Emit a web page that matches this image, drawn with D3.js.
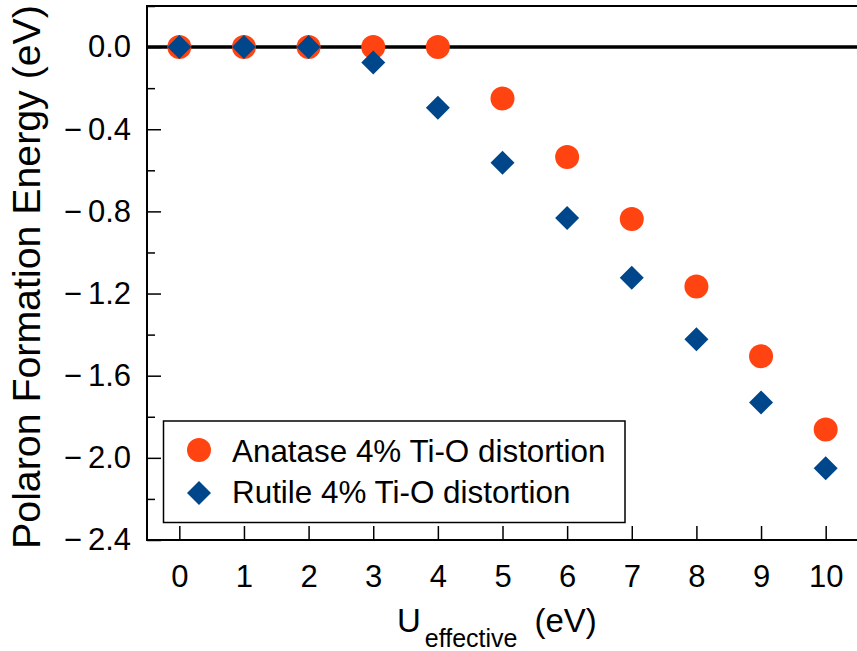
<!DOCTYPE html>
<html>
<head>
<meta charset="utf-8">
<script src="https://cdn.jsdelivr.net/npm/d3@7"></script>
<style>
  html, body { margin: 0; padding: 0; background: #fff; }
  svg { display: block; font-family: "Liberation Sans", Arial, sans-serif; }
</style>
</head>
<body>
<svg id="chart" width="857" height="651"></svg>
<script>
// U_effective values (eV)
const uValues = [0, 1, 2, 3, 4, 5, 6, 7, 8, 9, 10];
// Polaron formation energies (eV)
const anatase = [0, 0, 0, 0, 0, -0.25, -0.535, -0.837, -1.166, -1.505, -1.862];
const rutile  = [0, 0, 0, -0.075, -0.295, -0.563, -0.832, -1.123, -1.422, -1.730, -2.051];
const seriesNames = ["Anatase 4% Ti-O distortion", "Rutile 4% Ti-O distortion"];
const yMajorTicks = [0, -0.4, -0.8, -1.2, -1.6, -2.0, -2.4];
const yMinorTicks = [0.2, -0.2, -0.6, -1.0, -1.4, -1.8, -2.2];

const colAnatase = "#FF4411";
const colRutile = "#00468A";

const svg = d3.select("#chart");
const plotLeft = 147, plotRight = 858, plotTop = 6, plotBottom = 540;

const x = d3.scaleLinear().domain([-0.5, 10.5]).range([plotLeft, plotRight]);
const y = d3.scaleLinear().domain([-2.4, 0.2]).range([plotBottom, plotTop]);

// zero reference line
svg.append("line")
  .attr("x1", plotLeft).attr("x2", plotRight)
  .attr("y1", y(0)).attr("y2", y(0))
  .attr("stroke", "#000").attr("stroke-width", 3.5);

// y axis: major ticks with labels, inward; minus sign set slightly apart
const yAxis = d3.axisLeft(y).tickValues(yMajorTicks).tickSizeInner(-14).tickSizeOuter(0)
  .tickPadding(16)
  .tickFormat(d => d3.format(".1f")(Math.abs(d)));
const gy = svg.append("g").attr("transform", `translate(${plotLeft},0)`).call(yAxis);
gy.select(".domain").remove();
gy.selectAll(".tick line").attr("stroke-width", 1.5);
gy.selectAll(".tick text").attr("font-size", 31).attr("fill", "#000")
  .attr("font-family", "Liberation Sans, Arial, sans-serif")
  .each(function(d) {
    if (d < 0) {
      const t = d3.select(this);
      const num = t.text();
      t.text(null);
      t.append("tspan").text("\u2212");
      t.append("tspan").attr("dx", 6).text(num);
    }
  });

// y minor ticks
const yMinor = d3.axisLeft(y).tickValues(yMinorTicks).tickSizeInner(-8).tickSizeOuter(0).tickFormat("");
const gym = svg.append("g").attr("transform", `translate(${plotLeft},0)`).call(yMinor);
gym.select(".domain").remove();
gym.selectAll(".tick line").attr("stroke-width", 1.5);

// x axis: inward ticks
const xAxis = d3.axisBottom(x).tickValues(uValues).tickSizeInner(-14).tickSizeOuter(0)
  .tickPadding(25).tickFormat(d3.format("d"));
const gx = svg.append("g").attr("transform", `translate(0,${plotBottom})`).call(xAxis);
gx.select(".domain").remove();
gx.selectAll(".tick line").attr("stroke-width", 1.5);
gx.selectAll(".tick text").attr("font-size", 31).attr("fill", "#000")
  .attr("font-family", "Liberation Sans, Arial, sans-serif");

// frame
svg.append("path")
  .attr("d", `M${plotRight},${plotTop}H${plotLeft}V${plotBottom}H${plotRight}`)
  .attr("fill", "none").attr("stroke", "#000").attr("stroke-width", 2);

// anatase markers
svg.append("g").selectAll("circle")
  .data(uValues.map((u, i) => ({u, v: anatase[i]})))
  .join("circle")
  .attr("cx", d => x(d.u)).attr("cy", d => y(d.v)).attr("r", 12)
  .attr("fill", colAnatase);

// rutile markers (rotated squares)
const diamond = d3.symbol().type(d3.symbolSquare).size(288);
svg.append("g").selectAll("path")
  .data(uValues.map((u, i) => ({u, v: rutile[i]})))
  .join("path")
  .attr("d", diamond)
  .attr("transform", d => `translate(${x(d.u)},${y(d.v)}) rotate(45)`)
  .attr("fill", colRutile);

// legend
const lg = svg.append("g");
lg.append("rect").attr("x", 163.5).attr("y", 421).attr("width", 461.5).attr("height", 101.5)
  .attr("fill", "#fff").attr("stroke", "#000").attr("stroke-width", 1.5);
lg.append("circle").attr("cx", 199).attr("cy", 450).attr("r", 12).attr("fill", colAnatase);
lg.append("path").attr("d", diamond).attr("transform", "translate(199,493) rotate(45)").attr("fill", colRutile);
lg.append("text").attr("x", 232).attr("y", 461.5).attr("font-size", 31.4).text(seriesNames[0]);
lg.append("text").attr("x", 232).attr("y", 503).attr("font-size", 31.4).text(seriesNames[1]);

// x axis title with subscript
const xt = svg.append("text").attr("x", 397).attr("y", 632).attr("font-size", 33);
xt.append("tspan").text("U");
xt.append("tspan").attr("font-size", 25).attr("dx", 4).attr("dy", 15).text("effective");
xt.append("tspan").attr("dx", 17).attr("dy", -15).text("(eV)");

// y axis title
svg.append("text")
  .attr("transform", "translate(40,277) rotate(-90)")
  .attr("text-anchor", "middle").attr("font-size", 39.3)
  .text("Polaron Formation Energy (eV)");
</script>
</body>
</html>
